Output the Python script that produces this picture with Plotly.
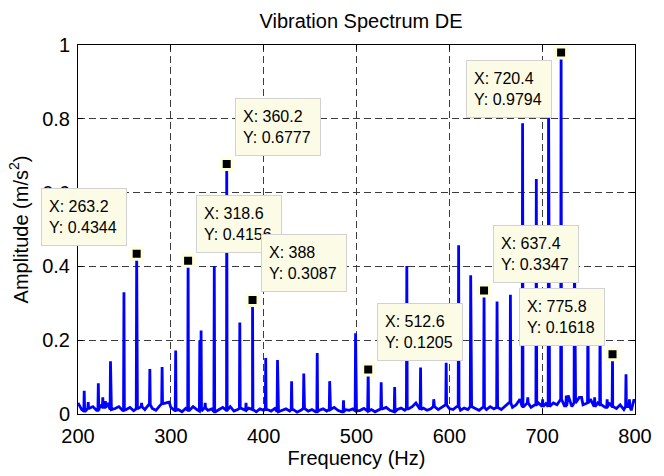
import plotly.graph_objects as go

# ---------------- data ----------------
title_text = "Vibration Spectrum DE"
x_label = "Frequency (Hz)"
y_label = "Amplitude (m/s<sup>2</sup>)"

# harmonic / sideband peaks (Hz, m/s^2)
peak_freq = [206.7, 211.0, 221.9, 226.7, 229.5, 235.0, 249.5, 263.2, 268.5, 277.4,
             290.6, 298.0, 305.2, 318.6, 331.2, 332.6, 337.0, 346.8, 360.2, 374.3,
             381.0, 388.0, 402.2, 414.9, 430.1, 443.2, 457.7, 471.1, 486.0, 499.0,
             512.6, 526.6, 541.1, 554.2, 569.0, 583.2, 596.6, 610.0, 623.0, 637.4,
             651.4, 665.8, 678.9, 684.5, 693.7, 700.5, 706.9, 720.4, 726.0, 734.8,
             742.0, 749.3, 756.5, 762.4, 770.0, 775.8, 790.3, 794.0, 799.4]
peak_amp = [0.063, 0.032, 0.083, 0.045, 0.035, 0.143, 0.330, 0.4344, 0.030, 0.122,
            0.127, 0.032, 0.172, 0.4156, 0.200, 0.226, 0.030, 0.401, 0.6777, 0.248,
            0.030, 0.3087, 0.152, 0.146, 0.089, 0.110, 0.165, 0.089, 0.037, 0.219,
            0.1205, 0.086, 0.073, 0.401, 0.126, 0.040, 0.139, 0.457, 0.376, 0.3347,
            0.305, 0.323, 0.788, 0.045, 0.637, 0.040, 0.860, 0.9794, 0.050, 0.450,
            0.045, 0.300, 0.045, 0.260, 0.040, 0.1618, 0.108, 0.040, 0.031]

# noise floor, one reading every 4 Hz from 200 Hz to 800 Hz
noise_start = 200
noise_step = 4
noise_amp = [0.030, 0.012, 0.008, 0.015, 0.020, 0.010, 0.025, 0.018, 0.030, 0.012,
             0.015, 0.020, 0.010, 0.012, 0.018, 0.009, 0.014, 0.020, 0.012, 0.025,
             0.015, 0.010, 0.022, 0.028, 0.030, 0.018,
             0.010, 0.012, 0.006, 0.015, 0.010, 0.020, 0.012, 0.008, 0.016, 0.010,
             0.014, 0.006, 0.012, 0.018, 0.010, 0.020, 0.008, 0.012, 0.015, 0.010,
             0.016, 0.012, 0.006, 0.014, 0.010,
             0.012, 0.008, 0.015, 0.006, 0.010, 0.014, 0.008, 0.012, 0.005, 0.010,
             0.015, 0.008, 0.012, 0.006, 0.010, 0.014, 0.008, 0.012, 0.018, 0.010,
             0.006, 0.012, 0.010, 0.014, 0.008,
             0.010, 0.015, 0.008, 0.012, 0.006, 0.010, 0.014, 0.018, 0.010, 0.006,
             0.012, 0.016, 0.010, 0.014, 0.020, 0.030, 0.012, 0.016, 0.010, 0.014,
             0.020, 0.012, 0.018, 0.025, 0.015,
             0.012, 0.020, 0.010, 0.016, 0.012, 0.020, 0.015, 0.010, 0.018, 0.012,
             0.020, 0.014, 0.018, 0.012, 0.020, 0.030, 0.018, 0.025, 0.040, 0.020,
             0.030, 0.018, 0.025, 0.030, 0.020,
             0.028, 0.020, 0.030, 0.025, 0.040, 0.022, 0.050, 0.020, 0.030, 0.045,
             0.025, 0.030, 0.040, 0.020, 0.030, 0.025, 0.018, 0.030, 0.020, 0.015,
             0.025, 0.012, 0.020, 0.010, 0.040]

# data tips shown on the chart
tip_x = [263.2, 318.6, 360.2, 388.0, 512.6, 637.4, 720.4, 775.8]
tip_y = [0.4344, 0.4156, 0.6777, 0.3087, 0.1205, 0.3347, 0.9794, 0.1618]

# ---------------- styling / layout ----------------
tip_offsets = [(-53, 37), (51, 37), (51, 37), (51, 37),
               (52, 38), (52, 37), (-52, -36), (-51, 37)]
FONT = "Liberation Sans, Arial, Helvetica, sans-serif"
W, H = 664, 476
ML, MR, MT, MB = 78, 20, 45, 56

# build the spectrum polyline from noise floor + narrow peaks
noise_freq = [noise_start + i * noise_step for i in range(len(noise_amp))]
pts = list(zip(noise_freq, noise_amp))
half_w = 0.45
for f, a in zip(peak_freq, peak_amp):
    k = min(range(len(noise_freq)), key=lambda i: abs(noise_freq[i] - f))
    base = noise_amp[k]
    pts += [(f - half_w, base), (f, a), (f + half_w, base)]
pts.sort(key=lambda p: p[0])
spec_x = [p[0] for p in pts]
spec_y = [p[1] for p in pts]

fig = go.Figure()
fig.add_trace(go.Scatter(
    x=spec_x, y=spec_y, mode="lines",
    line=dict(color="#0000FF", width=2.8),
    hoverinfo="skip", showlegend=False))
fig.add_trace(go.Scatter(
    x=tip_x, y=tip_y, mode="markers",
    marker=dict(symbol="square", size=11, color="black",
                line=dict(color="#FFFFDC", width=3)),
    hoverinfo="skip", showlegend=False, cliponaxis=False))

for x, y, (dx, dy) in zip(tip_x, tip_y, tip_offsets):
    fig.add_annotation(
        x=x, y=y, xref="x", yref="y",
        text=f"X: {x:g}<br>Y: {y:g}",
        showarrow=False, xshift=dx, yshift=dy,
        align="left", valign="middle",
        width=70, height=42, borderpad=7, borderwidth=1,
        bgcolor="#FCFCE6", bordercolor="#D2D2D2",
        font=dict(family=FONT, size=16, color="black"))

axis_common = dict(
    showline=True, linecolor="black", linewidth=1, mirror="ticks",
    ticks="inside", ticklen=5, tickcolor="black", tickwidth=1,
    showgrid=True, gridcolor="#3c3c3c", gridwidth=1, griddash="7px,4px",
    zeroline=False,
    tickfont=dict(family=FONT, size=20, color="black"),
)

fig.update_layout(
    width=W, height=H,
    margin=dict(l=ML, r=MR, t=MT, b=MB, pad=0),
    paper_bgcolor="white", plot_bgcolor="white",
    title=dict(text=title_text, x=(ML + (W - ML - MR) / 2) / W, xanchor="center",
               y=1 - 21 / H, yanchor="middle",
               font=dict(family=FONT, size=20, color="black")),
    xaxis=dict(range=[200, 800], dtick=100, tick0=200,
               title=dict(text=x_label, standoff=3,
                          font=dict(family=FONT, size=20, color="black")),
               ticklabelstandoff=4, **axis_common),
    yaxis=dict(range=[0, 1], dtick=0.2, tick0=0,
               title=dict(text=y_label, standoff=8,
                          font=dict(family=FONT, size=20, color="black")),
               ticklabelstandoff=3, **axis_common),
)

fig.write_html("out.html")
